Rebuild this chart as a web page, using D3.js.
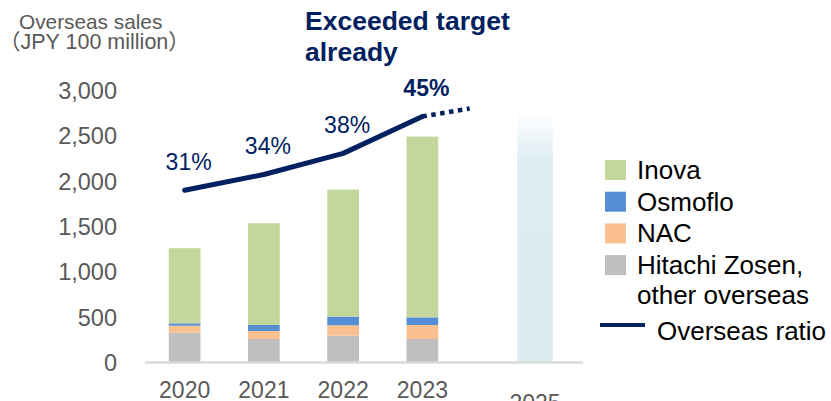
<!DOCTYPE html>
<html><head><meta charset="utf-8">
<script src="https://cdn.jsdelivr.net/npm/d3@7"></script>
<style>
html,body{margin:0;padding:0;background:#fff;overflow:hidden;}
svg{display:block;font-family:Arial,"Liberation Sans",sans-serif;}
</style></head>
<body>
<svg id="chart" width="831" height="401"></svg>
<script>
// ---- data ----
const years = ["2020", "2021", "2022", "2023"];
const targetYear = "2025";
const hitachiOther = [328, 259, 295, 259];
const nac = [77, 88, 115, 154];
const osmoflo = [26, 66, 95, 84];
const inova = [827, 1120, 1398, 1990];
const targetSales = 2780;
const overseasRatio = [31, 34, 38, 45];
const ratioExtension = 46.5;
const yTicks = [0, 500, 1000, 1500, 2000, 2500, 3000];
const seriesNames = ["Inova", "Osmoflo", "NAC", "Hitachi Zosen,\nother overseas"];
const seriesColors = ["#c3d69b", "#558ed5", "#fac090", "#bfbfbf"];
const lineName = "Overseas ratio";
const axisTitle = ["Overseas sales", "（JPY 100 million）"];
const noteText = ["Exceeded target", "already"];

// ---- setup ----
const svg = d3.select("#chart");
const navy = "#002060";
const gray = "#595959";

const x = d3.scaleBand().domain(years).range([145, 462]).paddingInner(0.6).paddingOuter(0.3);
const xT = d3.scaleBand().domain([targetYear]).range([487, 583]).paddingInner(0.6).paddingOuter(0.34);
const y = d3.scaleLinear().domain([0, 3000]).range([362.5, 90]);
const y2 = d3.scaleLinear().domain([0, 50]).range([354, 90]);

// gradient for target bar
const defs = svg.append("defs");
const grad = defs.append("linearGradient").attr("id", "tgt").attr("x1", 0).attr("y1", 0).attr("x2", 0).attr("y2", 1);
grad.append("stop").attr("offset", "0%").attr("stop-color", "#ffffff");
grad.append("stop").attr("offset", "22%").attr("stop-color", "#dbecf3");
grad.append("stop").attr("offset", "100%").attr("stop-color", "#daecf2");

// stacked data
const rows = years.map((yr, i) => ({
  year: yr,
  "Hitachi Zosen,\nother overseas": hitachiOther[i],
  "NAC": nac[i],
  "Osmoflo": osmoflo[i],
  "Inova": inova[i]
}));
const stackKeys = seriesNames.slice().reverse();
const stacked = d3.stack().keys(stackKeys)(rows);
const color = d3.scaleOrdinal().domain(seriesNames).range(seriesColors);

// y axis
const yAxis = d3.axisLeft(y).tickValues(yTicks).tickFormat(d3.format(",")).tickSize(0).tickPadding(0);
const gy = svg.append("g").attr("transform", "translate(117,0)").call(yAxis);
gy.select(".domain").remove();
gy.selectAll("text").attr("fill", gray).style("font-size", "23.5px").attr("dy", "0.35em");

// target bar
svg.append("rect")
  .attr("x", xT(targetYear)).attr("width", xT.bandwidth())
  .attr("y", y(targetSales)).attr("height", y(0) - y(targetSales))
  .attr("fill", "url(#tgt)");

// bars
svg.append("g").selectAll("g").data(stacked).join("g")
  .attr("fill", d => color(d.key))
  .selectAll("rect").data(d => d).join("rect")
  .attr("x", d => x(d.data.year)).attr("width", x.bandwidth())
  .attr("y", d => y(d[1])).attr("height", d => y(d[0]) - y(d[1]));

// baseline
svg.append("line").attr("x1", 145).attr("x2", 583).attr("y1", y(0)).attr("y2", y(0))
  .attr("stroke", "#d9d9d9").attr("stroke-width", 2.5);

// x axis labels
const xAxis = d3.axisBottom(x).tickSize(0).tickPadding(0);
const gx = svg.append("g").attr("transform", "translate(0,397.5)").call(xAxis);
gx.select(".domain").remove();
gx.selectAll("text").attr("fill", gray).style("font-size", "23px").attr("dy", "0");
const gxt = svg.append("g").attr("transform", "translate(0,411)").call(d3.axisBottom(xT).tickSize(0).tickPadding(0));
gxt.select(".domain").remove();
gxt.selectAll("text").attr("fill", gray).style("font-size", "23px").attr("dy", "0");

// ratio line
const cx = yr => x(yr) + x.bandwidth() / 2;
const pts = years.map((yr, i) => [cx(yr), y2(overseasRatio[i])]);
svg.append("path").attr("d", d3.line()(pts))
  .attr("fill", "none").attr("stroke", navy).attr("stroke-width", 5).attr("stroke-linecap", "round").attr("stroke-linejoin", "round");
const lastX = cx(years[years.length - 1]);
const tgtX = xT(targetYear) + xT.bandwidth() / 2;
const extX = lastX + (tgtX - lastX) * 0.42;
svg.append("path").attr("d", d3.line()([[lastX, y2(overseasRatio[overseasRatio.length - 1])], [extX, y2(ratioExtension)]]))
  .attr("fill", "none").attr("stroke", navy).attr("stroke-width", 4.5).attr("stroke-dasharray", "4.5,4.5");

// ratio labels
svg.append("g").selectAll("text").data(overseasRatio).join("text")
  .attr("x", (d, i) => cx(years[i]) + 4)
  .attr("y", d => y2(d) - 20)
  .attr("text-anchor", "middle")
  .attr("fill", navy)
  .style("font-size", "23px")
  .style("font-weight", (d, i) => i === overseasRatio.length - 1 ? "bold" : "normal")
  .text(d => d + "%");

// note
svg.append("text").attr("x", 305).attr("y", 30).attr("fill", navy)
  .style("font-size", "26.5px").style("font-weight", "bold")
  .selectAll("tspan").data(noteText).join("tspan")
  .attr("x", 305).attr("dy", (d, i) => i === 0 ? 0 : 31).text(d => d);

// axis title
svg.append("text").attr("x", 19).attr("y", 29).attr("fill", gray).style("font-size", "20.8px").text(axisTitle[0]);
svg.append("text").attr("x", -1).attr("y", 49).attr("fill", gray).style("font-size", "21.5px")
  .style("font-family", "Arial,'Liberation Sans','Noto Sans CJK JP',sans-serif").text(axisTitle[1]);

// legend
const lg = svg.append("g");
let yy = 160;
seriesNames.forEach((n, i) => {
  lg.append("rect").attr("x", 605).attr("y", yy).attr("width", 21).attr("height", 20).attr("fill", seriesColors[i]);
  const lines = n.split("\n");
  lines.forEach((ln, j) => {
    lg.append("text").attr("x", 637).attr("y", yy + 19 + j * 30).attr("fill", "#000")
      .style("font-size", "26px").text(ln);
  });
  yy += 31.7;
});
lg.append("line").attr("x1", 600).attr("x2", 645).attr("y1", 325).attr("y2", 325).attr("stroke", navy).attr("stroke-width", 4);
lg.append("text").attr("x", 657).attr("y", 340).attr("fill", "#000").style("font-size", "26px").text(lineName);
</script>
</body></html>
